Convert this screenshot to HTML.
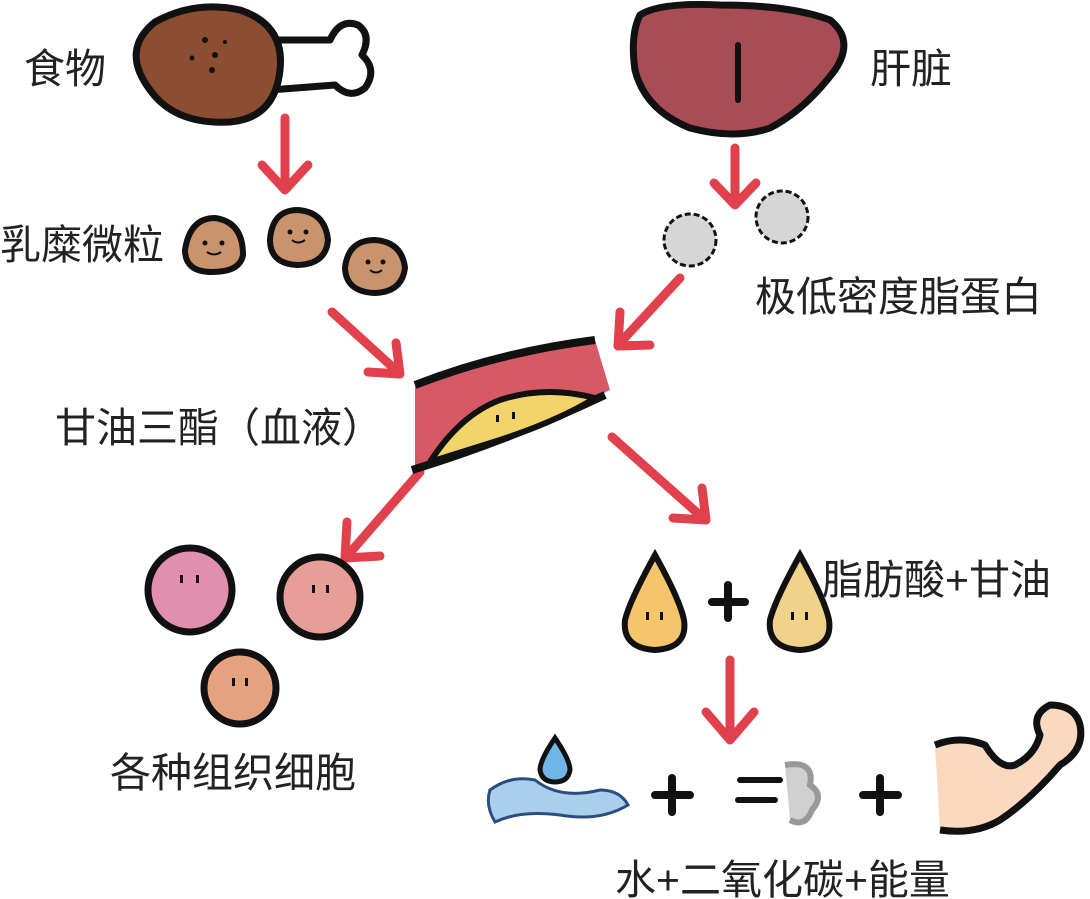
<!DOCTYPE html>
<html><head><meta charset="utf-8"><style>
body{margin:0;background:#fff;width:1090px;height:899px;overflow:hidden}
svg{position:absolute;left:0;top:0}
.t{font-family:"Liberation Sans","Noto Sans CJK SC",sans-serif;font-size:41px;fill:#222}
</style></head><body>
<svg width="1090" height="899" viewBox="0 0 1090 899">
<g fill="none" stroke="#e0414c" stroke-width="9" stroke-linecap="round" stroke-linejoin="round">
<path d="M285 118 L285 188 M262 165 L285 190 L308 165"/>
<path d="M735 148 L735 203 M714 183 L735 205 L756 183"/>
<path d="M332 312 L398 372 M368 372 L400 374 L396 343"/>
<path d="M680 278 L620 343 M620 312 L618 346 L650 345"/>
<path d="M420 472 L348 555 M347 522 L345 558 L380 556"/>
<path d="M612 437 L703 518 M673 518 L706 520 L702 488"/>
<path d="M730 660 L730 738 M706 712 L730 740 L754 712"/>
</g>
<path d="M270 40 L330 40 Q340 18 358 25 Q372 35 362 55 Q378 70 365 88 Q350 100 335 85 L270 90 Z" fill="#fff" stroke="#111" stroke-width="7" stroke-linejoin="round"/>
<path d="M150 90 Q120 50 155 22 Q195 0 240 10 Q285 25 280 70 Q275 118 230 122 Q175 125 150 90 Z" fill="#8b4e32" stroke="#111" stroke-width="7"/>
<g fill="#111"><circle cx="205" cy="40" r="3"/><circle cx="215" cy="55" r="3"/><circle cx="192" cy="58" r="2.5"/><circle cx="212" cy="70" r="3"/><circle cx="225" cy="42" r="2"/></g>
<path d="M640 15 Q660 2 720 5 Q790 5 830 20 Q855 40 835 70 Q805 110 770 128 Q735 140 690 128 Q645 110 635 70 Q630 35 640 15 Z" fill="#a94d55" stroke="#111" stroke-width="7"/>
<path d="M738 45 L738 100" stroke="#111" stroke-width="6" stroke-linecap="round"/>
<g stroke="#111" stroke-width="6" fill="#c9936c">
<path d="M185 250 Q190 218 215 218 Q243 222 243 255 Q240 272 212 272 Q185 272 185 250Z"/>
<path d="M270 240 Q272 210 298 210 Q325 212 328 240 Q326 264 298 265 Q270 264 270 240Z"/>
<path d="M345 268 Q348 240 375 240 Q402 242 405 268 Q402 292 375 293 Q346 292 345 268Z"/>
</g>
<g fill="#111"><circle cx="205" cy="243" r="2.5"/><circle cx="222" cy="243" r="2.5"/><circle cx="290" cy="232" r="2.5"/><circle cx="306" cy="232" r="2.5"/><circle cx="368" cy="262" r="2.5"/><circle cx="383" cy="262" r="2.5"/></g>
<g fill="none" stroke="#111" stroke-width="2"><path d="M207 252 Q214 257 221 252"/><path d="M292 240 Q298 245 305 240"/><path d="M370 270 Q376 275 382 270"/></g>
<g fill="#d6d6d6" stroke="#111" stroke-width="3">
<circle cx="690" cy="240" r="26" stroke-dasharray="6 3"/>
<circle cx="782" cy="217" r="26" stroke-dasharray="6 3"/>
</g>
<path d="M415 385 Q500 350 595 340 L610 390 L600 395 Q520 430 430 465 L415 470 Z" fill="#d65a66"/>
<path d="M415 385 Q500 352 595 340" fill="none" stroke="#111" stroke-width="8"/>
<path d="M412 470 Q510 440 605 395" fill="none" stroke="#111" stroke-width="8"/>
<path d="M430 462 Q460 415 500 400 Q545 385 595 398 Q560 420 500 440 Z" fill="#f2d46a" stroke="#111" stroke-width="6" stroke-linejoin="round"/>
<g fill="#111"><rect x="496" y="415" width="3" height="7"/><rect x="512" y="412" width="3" height="7"/></g>
<g stroke="#111" stroke-width="7">
<circle cx="190" cy="590" r="42" fill="#e08fae"/>
<circle cx="320" cy="597" r="40" fill="#e79e98"/>
<circle cx="240" cy="688" r="36" fill="#e5a27f"/>
</g>
<g fill="#111"><rect x="180" y="575" width="3" height="8"/><rect x="196" y="575" width="3" height="8"/><rect x="312" y="585" width="3" height="8"/><rect x="326" y="585" width="3" height="8"/><rect x="232" y="678" width="3" height="8"/><rect x="245" y="678" width="3" height="8"/></g>
<path d="M655 555 Q630 600 625 620 Q622 648 655 650 Q688 648 684 620 Q680 600 655 555Z" fill="#f4c56b" stroke="#111" stroke-width="6"/>
<path d="M800 555 Q775 600 770 620 Q767 648 800 650 Q833 648 829 620 Q825 600 800 555Z" fill="#efd38a" stroke="#111" stroke-width="6"/>
<g fill="#111"><rect x="646" y="612" width="3" height="8"/><rect x="660" y="612" width="3" height="8"/><rect x="791" y="612" width="3" height="8"/><rect x="805" y="612" width="3" height="8"/></g>
<path d="M728 585 L728 618 M712 602 L745 602" stroke="#111" stroke-width="8" stroke-linecap="round"/>
<path d="M490 790 Q510 775 535 780 Q560 800 600 790 Q620 790 628 805 Q600 822 560 815 Q520 810 495 822 Q485 805 490 790 Z" fill="#a9cfea" stroke="#2a4d80" stroke-width="3"/>
<path d="M555 738 Q540 760 540 770 Q542 782 555 782 Q568 782 570 770 Q570 760 555 738Z" fill="#6fb6e6" stroke="#111" stroke-width="5"/>
<path d="M672 778 L672 812 M655 795 L690 795 M880 778 L880 812 M863 795 L898 795" stroke="#111" stroke-width="8" stroke-linecap="round"/>
<path d="M740 780 L780 780 M738 800 L775 800" stroke="#111" stroke-width="6" stroke-linecap="round"/>
<path d="M785 765 Q815 760 810 785 Q825 795 812 810 Q805 828 790 820" fill="#d0d0d0" stroke="#999" stroke-width="6"/>
<path d="M935 745 Q960 735 985 745 Q1000 770 1015 765 Q1035 755 1040 735 Q1030 715 1050 705 Q1075 705 1080 725 Q1085 750 1060 765 Q1030 800 1000 820 Q975 835 940 830" fill="#fbd9c0" stroke="#111" stroke-width="7" stroke-linejoin="round"/>
<text class="t" x="24" y="83">食物</text>
<text class="t" x="870" y="83">肝脏</text>
<text class="t" x="0" y="259">乳糜微粒</text>
<text class="t" x="755" y="311">极低密度脂蛋白</text>
<text class="t" x="55" y="442">甘油三酯（血液）</text>
<text class="t" x="822" y="594">脂肪酸+甘油</text>
<text class="t" x="110" y="787">各种组织细胞</text>
<text class="t" x="615" y="894">水+二氧化碳+能量</text>
</svg>
</body></html>
